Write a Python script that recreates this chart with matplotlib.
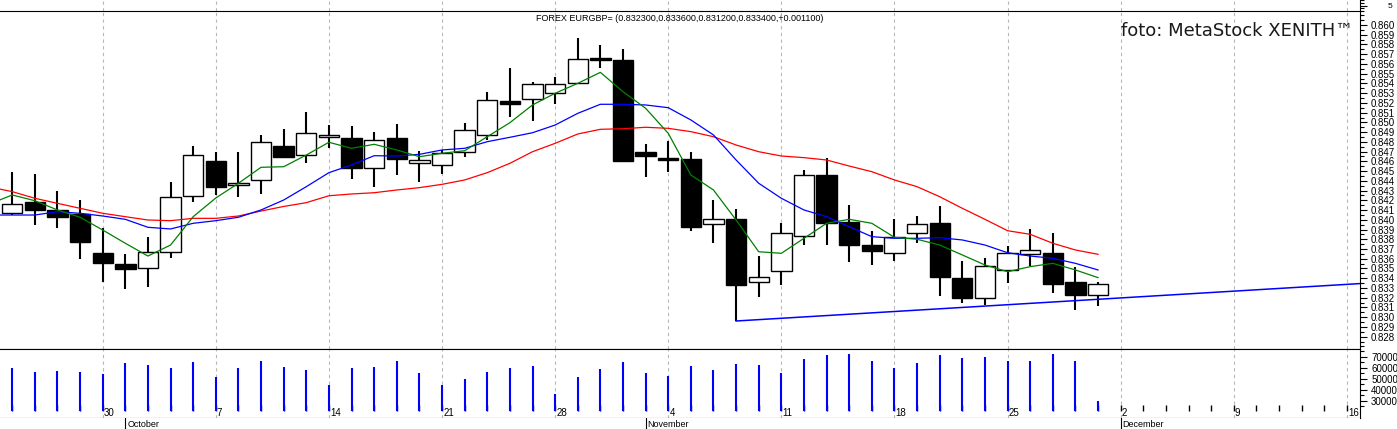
import numpy as np
import pandas as pd
import matplotlib
matplotlib.use('Agg')
import matplotlib.pyplot as plt
import matplotlib.transforms as mtransforms
from matplotlib.ticker import MultipleLocator, FixedLocator

# ----- data (EUR/GBP daily, autumn 2013) -----
# trading calendar, first entry (Sep 23) only carries the moving averages
calendar_start = '2013-09-23'
calendar_end = '2013-12-20'

# candles from Sep 24 to Nov 29
opens = [0.84067, 0.84183, 0.84101, 0.84060, 0.83656, 0.83543, 0.83502, 0.83666, 0.84241, 0.84604,
         0.84354, 0.84406, 0.84758, 0.84662, 0.84847, 0.84837, 0.84529, 0.84837, 0.84580, 0.84560,
         0.84693, 0.84868, 0.85220, 0.85237, 0.85299, 0.85401, 0.85658, 0.85641, 0.84693, 0.84638,
         0.84624, 0.83954, 0.84008, 0.83358, 0.83471, 0.83834, 0.84457, 0.83980, 0.83741, 0.83656,
         0.83861, 0.83964, 0.83399, 0.83194, 0.83485, 0.83652, 0.83656, 0.83358, 0.83230]
highs = [0.84491, 0.84470, 0.84296, 0.84203, 0.83916, 0.83649, 0.83823, 0.84388, 0.84758, 0.84696,
         0.84696, 0.84871, 0.84935, 0.85107, 0.84973, 0.84960, 0.84901, 0.84984, 0.84703, 0.84717,
         0.84991, 0.85312, 0.85555, 0.85418, 0.85469, 0.85863, 0.85795, 0.85751, 0.84778, 0.84809,
         0.84693, 0.84203, 0.84108, 0.83628, 0.83970, 0.84511, 0.84634, 0.84149, 0.83888, 0.84005,
         0.84039, 0.84142, 0.83577, 0.83605, 0.83731, 0.83906, 0.83861, 0.83519, 0.83360]
lows = [0.84049, 0.83947, 0.83919, 0.83601, 0.83361, 0.83293, 0.83307, 0.83608, 0.84186, 0.84255,
        0.84237, 0.84265, 0.84631, 0.84586, 0.84734, 0.84422, 0.84340, 0.84463, 0.84391, 0.84470,
        0.84648, 0.84819, 0.85052, 0.85017, 0.85189, 0.85390, 0.85555, 0.84596, 0.84436, 0.84494,
        0.83888, 0.83765, 0.82961, 0.83204, 0.83331, 0.83741, 0.83741, 0.83570, 0.83536, 0.83577,
        0.83759, 0.83221, 0.83149, 0.83125, 0.83348, 0.83526, 0.83252, 0.83074, 0.83120]
closes = [0.84162, 0.84101, 0.84032, 0.83775, 0.83553, 0.83498, 0.83669, 0.84231, 0.84662, 0.84340,
          0.84378, 0.84796, 0.84648, 0.84888, 0.84874, 0.84529, 0.84816, 0.84621, 0.84611, 0.84689,
          0.84922, 0.85227, 0.85192, 0.85391, 0.85391, 0.85648, 0.85641, 0.84607, 0.84658, 0.84617,
          0.83929, 0.84005, 0.83331, 0.83416, 0.83861, 0.84457, 0.83964, 0.83741, 0.83683, 0.83827,
          0.83954, 0.83416, 0.83200, 0.83523, 0.83656, 0.83687, 0.83344, 0.83230, 0.83340]
volumes = [60000, 56100, 57300, 56100, 54500, 64300, 62700, 60000, 65500, 51500,
           60000, 66400, 60900, 58200, 44500, 60000, 60900, 66400, 55500, 44000,
           49700, 56400, 60000, 61800, 36400, 51800, 59100, 65500, 55500, 52700,
           61800, 58200, 63600, 62700, 55500, 68200, 71800, 72700, 66400, 60000,
           64500, 71800, 69100, 70000, 66100, 66100, 72700, 66100, 29700]

# moving averages, Sep 23 to Nov 29
ma_green = [0.84162, 0.84255, 0.84196, 0.84101, 0.84026, 0.83895, 0.83759, 0.83628, 0.83741, 0.84032,
            0.84224, 0.84375, 0.84539, 0.84545, 0.84665, 0.84796, 0.84734, 0.84775, 0.84717, 0.84648,
            0.84683, 0.84709, 0.84853, 0.84997, 0.85179, 0.85299, 0.85401, 0.85514, 0.85315, 0.85145,
            0.84888, 0.84460, 0.84306, 0.83998, 0.83672, 0.83656, 0.83810, 0.83964, 0.84005, 0.83964,
            0.83820, 0.83800, 0.83741, 0.83639, 0.83536, 0.83467, 0.83519, 0.83553, 0.83485, 0.83406]
ma_blue = [0.84049, 0.84049, 0.84049, 0.84083, 0.84067, 0.84039, 0.84005, 0.83923, 0.83906, 0.83964,
           0.83991, 0.84026, 0.84101, 0.84203, 0.84340, 0.84484, 0.84563, 0.84658, 0.84655, 0.84672,
           0.84717, 0.84734, 0.84802, 0.84847, 0.84894, 0.84973, 0.85093, 0.85186, 0.85186, 0.85179,
           0.85151, 0.85025, 0.84871, 0.84614, 0.84375, 0.84221, 0.84101, 0.84032, 0.83929, 0.83827,
           0.83810, 0.83810, 0.83816, 0.83793, 0.83741, 0.83662, 0.83628, 0.83605, 0.83553, 0.83485]
ma_red = [0.84337, 0.84289, 0.84221, 0.84169, 0.84118, 0.84067, 0.84032, 0.83998, 0.83991, 0.84015,
          0.84015, 0.84039, 0.84090, 0.84137, 0.84176, 0.84247, 0.84265, 0.84278, 0.84306, 0.84330,
          0.84364, 0.84409, 0.84484, 0.84580, 0.84699, 0.84785, 0.84881, 0.84929, 0.84935, 0.84950,
          0.84939, 0.84905, 0.84853, 0.84768, 0.84699, 0.84655, 0.84638, 0.84614, 0.84552, 0.84494,
          0.84409, 0.84340, 0.84237, 0.84118, 0.84005, 0.83888, 0.83851, 0.83759, 0.83690, 0.83646]

# support trendline drawn from the Nov 7 low
trend_dates = ['2013-11-07', '2013-12-17']
trend_prices = [0.82961, 0.83351]

# labelled levels on the right hand scales
price_labels = [0.828 + 0.001 * k for k in range(33)]
volume_labels = [30000, 40000, 50000, 60000, 70000]

title_text = 'FOREX EURGBP= (0.832300,0.833600,0.831200,0.833400,+0.001100)'
credit_text = 'foto: MetaStock XENITH\u2122'

# ----- layout (pixels of the 1397x429 screenshot) -----
W, H = 1397.0, 429.0
PLOT_RIGHT = 1360.0
XLIM = (-0.54, 59.58)
GRID_STYLE = dict(color='#b8b8b8', linestyle=(0, (3, 3)), linewidth=0.8)
SMALL_FONT = ['Liberation Sans', 'DejaVu Sans']


def panel(fig, top, bottom):

    """
    Add an axes that spans the given pixel rows of the picture

    :param fig: matplotlib figure
    :param top: pixel row of the top edge
    :param bottom: pixel row of the bottom edge
    :return: axes
    """

    ax = fig.add_axes([0, 1 - bottom / H, PLOT_RIGHT / W, (bottom - top) / H])
    for side in ('left', 'top', 'bottom', 'right'):
        ax.spines[side].set_visible(False)
    ax.tick_params(axis='both', which='both', length=0, labelbottom=False, labelleft=False)
    return ax


def style_labels(labels, size=7):

    """
    Apply the small scale font to a list of tick labels

    :param labels: list of matplotlib Text
    :param size: font size in points
    :return: None
    """

    for lab in labels:
        lab.set_fontfamily(SMALL_FONT)
        lab.set_fontsize(size)


def main():

    # positions of the trading days on the x axis (Sep 24 = 0)
    calendar = pd.bdate_range(calendar_start, calendar_end)
    pos = pd.Series(np.arange(len(calendar)) - 1, index=calendar)
    ma_x = pos.values[:len(ma_red)]
    candle_x = pos.values[1:1 + len(closes)]

    mondays = calendar[(calendar.weekday == 0) & (pos.values >= 0)]
    monday_x = pos[mondays].values
    other_x = pos[calendar[calendar.weekday != 0]].values
    month_starts = [calendar[calendar.month == m][0] for m in (10, 11, 12)]
    month_names = [d.strftime('%B') for d in month_starts]

    fig = plt.figure(figsize=(W / 100, H / 100), dpi=100)

    ax_top = panel(fig, 0, 11)
    ax_price = panel(fig, 11, 349)
    ax_vol = panel(fig, 349, 411)
    ax_date = panel(fig, 411, 418)
    ax_month = panel(fig, 418, 429)

    # weekly dashed grid through every panel
    for ax in (ax_top, ax_price, ax_vol, ax_date):
        ax.set_xticks(monday_x)
        ax.grid(axis='x', **GRID_STYLE)
        ax.spines['right'].set_visible(True)
        ax.set_axisbelow(True)
    for ax in (ax_top, ax_price, ax_vol, ax_date, ax_month):
        ax.set_xlim(*XLIM)

    # frame lines
    ax_price.spines['top'].set_visible(True)
    ax_price.spines['bottom'].set_visible(True)
    ax_date.spines['bottom'].set_visible(True)

    # candles: wick first, body on top
    for x, o, h, l, c in zip(candle_x, opens, highs, lows, closes):
        ax_price.vlines(x, l, h, color='black', linewidth=1.5, zorder=3)
        face = 'white' if c >= o else 'black'
        ax_price.bar(x, abs(c - o), bottom=min(o, c), width=0.9, color=face,
                     edgecolor='black', linewidth=1.0, zorder=4)

    # moving averages
    ax_price.plot(ma_x, ma_red, color='#ff0000', linewidth=0.9, zorder=5)
    ax_price.plot(ma_x, ma_blue, color='#0000ff', linewidth=0.9, zorder=5)
    ax_price.plot(ma_x, ma_green, color='#008000', linewidth=0.9, zorder=5)

    # trendline
    trend_x = pos[pd.to_datetime(trend_dates)].values
    ax_price.plot(trend_x, trend_prices, color='#0000ff', linewidth=1.1, zorder=5)
    ax_price.set_xlim(*XLIM)

    # price scale on the right
    ax_price.set_ylim(0.826735, 0.861437)
    ax_price.yaxis.tick_right()
    ax_price.yaxis.set_major_locator(FixedLocator(price_labels))
    ax_price.yaxis.set_minor_locator(MultipleLocator(0.0005))
    ax_price.yaxis.set_major_formatter(plt.FormatStrFormatter('%.3f'))
    ax_price.tick_params(axis='y', which='major', length=5, width=0.8, direction='out',
                         labelright=True, pad=3)
    ax_price.tick_params(axis='y', which='minor', length=3, width=0.8, direction='out')
    style_labels(ax_price.get_yticklabels())

    ax_price.text(0.5, 0.99, title_text, transform=ax_price.transAxes, ha='center', va='top',
                  fontsize=6.5, family=SMALL_FONT)

    # small indicator strip on top
    ax_top.set_ylim(0, 10)
    ax_top.yaxis.tick_right()
    ax_top.set_yticks([5])
    ax_top.yaxis.set_minor_locator(MultipleLocator(2.5))
    ax_top.tick_params(axis='y', which='major', length=5, width=0.8, labelright=True, pad=15)
    ax_top.tick_params(axis='y', which='minor', length=3, width=0.8)
    style_labels(ax_top.get_yticklabels(), 6)

    # volume panel
    vol_floor = 20636
    ax_vol.set_ylim(vol_floor, 77000)
    ax_vol.vlines(candle_x, vol_floor, volumes, color='#0000ff', linewidth=1.5, zorder=2)
    ax_vol.spines['top'].set_visible(True)
    ax_vol.yaxis.tick_right()
    ax_vol.yaxis.set_major_locator(FixedLocator(volume_labels))
    ax_vol.yaxis.set_minor_locator(MultipleLocator(5000))
    ax_vol.tick_params(axis='y', which='major', length=5, width=0.8, labelright=True, pad=3)
    ax_vol.tick_params(axis='y', which='minor', length=3, width=0.8)
    style_labels(ax_vol.get_yticklabels())

    # day ticks along the bottom of the volume panel
    ax_vol.xaxis.set_minor_locator(FixedLocator(other_x))
    ax_vol.tick_params(axis='x', which='both', direction='in', length=4, width=1.0,
                       labelbottom=False, colors='black')
    ax_vol.set_xlim(*XLIM)

    # Monday numbers just under the day ticks
    date_trans = mtransforms.blended_transform_factory(ax_date.transData, ax_date.transAxes)
    for d, x in zip(mondays, monday_x):
        ax_date.annotate(str(d.day), xy=(x, 0.3), xycoords=date_trans, xytext=(0.8, 0),
                         textcoords='offset points', ha='left', va='baseline',
                         fontsize=7, family=SMALL_FONT, annotation_clip=False)
    ax_date.patch.set_visible(False)

    # month markers under the frame
    for d, name in zip(month_starts, month_names):
        ax_month.axvline(pos[d], color='black', linewidth=0.8)
        ax_month.annotate(name, xy=(pos[d], 0.42), xycoords=('data', 'axes fraction'),
                          xytext=(1.5, 0), textcoords='offset points', ha='left', va='center',
                          fontsize=6.5, family=SMALL_FONT)

    # credit line
    fig.text(1353 / W, 1 - 31 / H, credit_text, ha='right', va='center', fontsize=13,
             color='#1a1a1a', family=['DejaVu Sans'])

    fig.savefig('out.png', dpi=100)


if __name__ == '__main__':
    main()
